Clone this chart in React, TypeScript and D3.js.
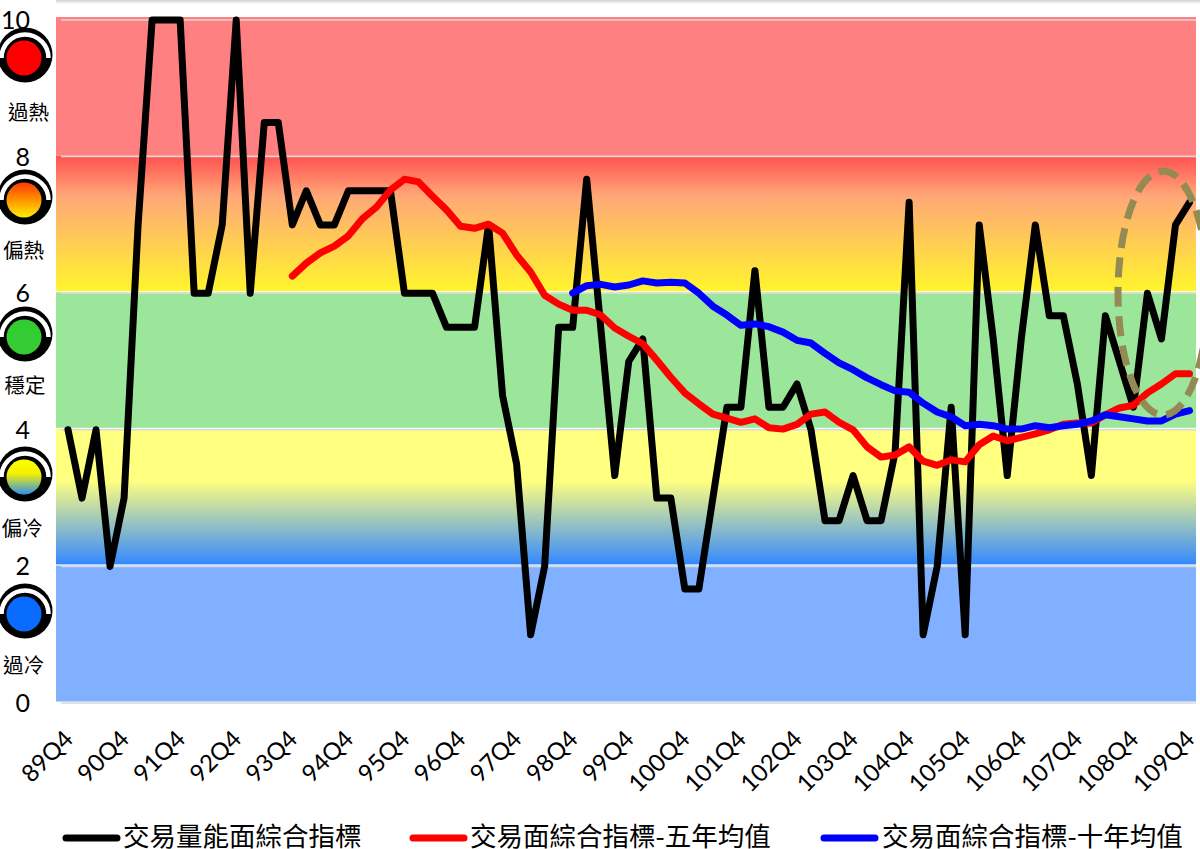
import React from "react";
import * as d3 from "d3";

const tickYears = ["89Q4","90Q4","91Q4","92Q4","93Q4","94Q4","95Q4","96Q4","97Q4","98Q4","99Q4","100Q4","101Q4","102Q4","103Q4","104Q4","105Q4","106Q4","107Q4","108Q4","109Q4"];
const volumeIndex = [4,3,4,2,3,7,10,10,10,6,6,7,10,6,8.5,8.5,7,7.5,7,7,7.5,7.5,7.5,7.5,6,6,6,5.5,5.5,5.5,7,4.5,3.5,1,2,5.5,5.5,7.67,5.5,3.33,5,5.33,3,3,1.67,1.67,3,4.33,4.33,6.33,4.33,4.33,4.67,4,2.67,2.67,3.33,2.67,2.67,3.67,7.33,1,2,4.33,1,7,5.33,3.33,5.33,7,5.67,5.67,4.67,3.33,5.67,5,4.33,6,5.33,7,7.33];
const fiveYear = [6.25,6.44,6.59,6.69,6.84,7.09,7.26,7.51,7.67,7.63,7.42,7.22,6.98,6.95,7.01,6.88,6.56,6.31,5.97,5.84,5.75,5.75,5.68,5.49,5.37,5.26,5.02,4.77,4.54,4.38,4.23,4.17,4.11,4.16,4.03,4.01,4.08,4.23,4.26,4.11,4.00,3.75,3.60,3.63,3.75,3.54,3.48,3.56,3.53,3.78,3.91,3.84,3.89,3.94,4.00,4.08,4.10,4.10,4.22,4.32,4.36,4.54,4.67,4.82,4.82];
const fiveYearStart = 16;
const tenYear = [6.00,6.11,6.13,6.09,6.12,6.18,6.15,6.16,6.15,6.00,5.81,5.68,5.53,5.55,5.51,5.43,5.31,5.27,5.12,4.98,4.88,4.76,4.66,4.57,4.55,4.39,4.26,4.19,4.06,4.08,4.06,4.01,4.01,4.06,4.03,4.06,4.08,4.13,4.22,4.19,4.16,4.13,4.13,4.23,4.28];
const tenYearStart = 36;
const yTicks = [0,2,4,6,8,10];
const lampLabels = ["過冷","偏冷","穩定","偏熱","過熱"];
const legendLabels = ["交易量能面綜合指標","交易面綜合指標-五年均值","交易面綜合指標-十年均值"];

const font = "'Noto Sans CJK TC','Noto Sans',sans-serif";
const latin = "Lato,'Liberation Sans',sans-serif";
const W = 1200, H = 849;
const x = d3.scaleLinear().domain([0, 80]).range([68, 1189.5]);
const y = d3.scaleLinear().domain([0, 10]).range([703, 20]);

const line = d3.line<number[]>().x((d) => x(d[0])).y((d) => y(d[1]));
const pts = (arr: number[], start: number) => arr.map((v, i) => [i + start, v]);

const bandFills = ["#80b0ff", "url(#coolBand)", "#9ce69c", "url(#warmBand)", "#ff8080"];
const lampFills = ["#0a6cff", "url(#coolLamp)", "#33cc33", "url(#warmLamp)", "#ff0000"];
const lampCy = [614, 477, 337, 200, 58];
const lampLabelY = [673, 536, 393, 258, 120];
const lampLabelX = [23.5, 22, 25, 23.5, 28.5];
const series = [
  { d: pts(volumeIndex, 0), c: "#000000", w: 7 },
  { d: pts(fiveYear, fiveYearStart), c: "#ff0000", w: 7 },
  { d: pts(tenYear, tenYearStart), c: "#0000ff", w: 7 },
];
const legendX = [[66, 117], [413, 464], [824, 875]];
const legendText = [123, 470, 882];

export default function App() {
  return (
    <svg width={W} height={H} viewBox={`0 0 ${W} ${H}`} style={{ position: "absolute", left: 0, top: 0, background: "#fff" }}>
      <defs>
        <linearGradient id="warmBand" x1="0" y1="0" x2="0" y2="1">
          <stop offset="0" stopColor="#ff5050" />
          <stop offset="0.3" stopColor="#ffa878" />
          <stop offset="1" stopColor="#fff52c" />
        </linearGradient>
        <linearGradient id="coolBand" x1="0" y1="0" x2="0" y2="1">
          <stop offset="0" stopColor="#ffff80" />
          <stop offset="0.38" stopColor="#ffff80" />
          <stop offset="1" stopColor="#3388ff" />
        </linearGradient>
        <linearGradient id="warmLamp" x1="0" y1="0" x2="0" y2="1">
          <stop offset="0" stopColor="#ff3a00" />
          <stop offset="1" stopColor="#ffee00" />
        </linearGradient>
        <linearGradient id="coolLamp" x1="0" y1="0" x2="0" y2="1">
          <stop offset="0" stopColor="#ffff00" />
          <stop offset="0.4" stopColor="#f4f000" />
          <stop offset="1" stopColor="#2f8fef" />
        </linearGradient>
        <linearGradient id="topShade" x1="0" y1="0" x2="0" y2="1">
          <stop offset="0" stopColor="#d0d0d0" />
          <stop offset="1" stopColor="#ffffff" />
        </linearGradient>
      </defs>

      <rect x={56} y={0} width={1144} height={4} fill="url(#topShade)" />

      {bandFills.map((f, i) => (
        <rect key={i} x={56} y={i === 4 ? y(10) - 3 : y(yTicks[i + 1]) - 1} width={1140}
          height={i === 4 ? y(8) - y(10) + 2 : y(yTicks[i]) - y(yTicks[i + 1]) - 0.5} fill={f} />
      ))}
      {yTicks.map((t) => (
        <g key={t}>
          <line x1={61} x2={1196} y1={y(t)} y2={y(t)} stroke="#d9d9d9" strokeWidth={1.5} />
          <line x1={56} x2={1196} y1={y(t) - 1.5} y2={y(t) - 1.5} stroke="#ffffff" strokeOpacity={t === 0 || t === 10 || t === 8 ? 0 : 0.9} strokeWidth={1} />
          <text x={30} y={y(t)} dy="0.36em" textAnchor="end" fontFamily={latin} fontSize={25} fill="#000">{t}</text>
        </g>
      ))}

      {lampCy.map((cy, i) => {
        const r = 23.5;
        const arc = `M${25 - r},${cy} A${r},${r} 0 0 1 ${25 + r},${cy}`;
        return (
          <g key={i}>
            <circle cx={25} cy={cy - 3} r={27.5} fill="#000" />
            <path d={arc} fill="none" stroke="#fff" strokeWidth={4.5} />
            <circle cx={24} cy={cy} r={17.5} fill={lampFills[i]} />
            <text x={lampLabelX[i]} y={lampLabelY[i]} textAnchor="middle" fontFamily={font} fontSize={20.5} fill="#000">{lampLabels[i]}</text>
          </g>
        );
      })}

      {series.map((s, i) => (
        <path key={i} d={line(s.d) ?? ""} fill="none" stroke={s.c} strokeWidth={s.w} strokeLinejoin="round" strokeLinecap="round" />
      ))}

      <ellipse cx={1163} cy={293} rx={45} ry={122} fill="none" stroke="#948a54" strokeWidth={7} strokeDasharray="20 9.5" strokeDashoffset={-26.5} />

      {tickYears.map((t, i) => (
        <text key={t} transform={`translate(${x(i * 4) - 7},${727}) rotate(-45)`} textAnchor="end" dominantBaseline="hanging"
          fontFamily={latin} fontSize={24} fill="#000">{t}</text>
      ))}

      {legendLabels.map((l, i) => (
        <g key={l}>
          <line x1={legendX[i][0]} x2={legendX[i][1]} y1={838} y2={838} stroke={series[i].c} strokeWidth={7} strokeLinecap="round" />
          <text x={legendText[i]} y={845.5} fontFamily={font} fontSize={26.5} fill="#000">{l}</text>
        </g>
      ))}
    </svg>
  );
}
